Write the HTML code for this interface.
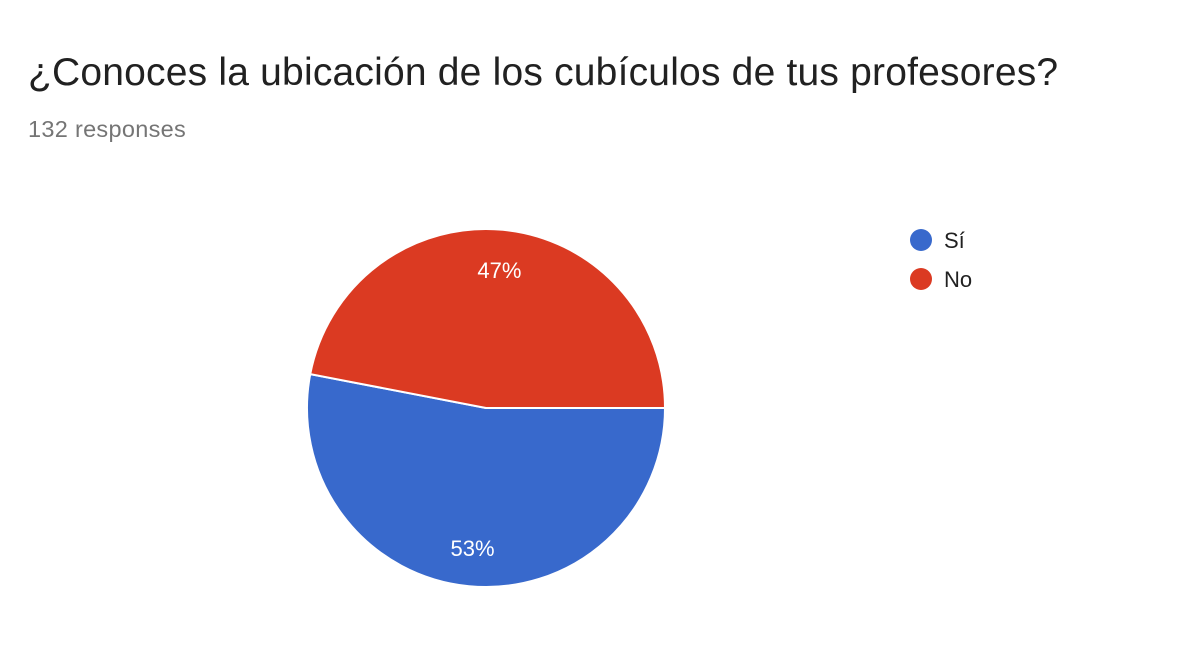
<!DOCTYPE html>
<html><head><meta charset="utf-8"><style>
body{margin:0;width:1182px;height:666px;background:#fff;overflow:hidden;font-family:"Liberation Sans",Arial,sans-serif}
#title{position:absolute;left:28px;top:51px;font-size:39px;letter-spacing:0.2px;color:#212121;white-space:nowrap}
#sub{position:absolute;left:28px;top:116px;font-size:23.5px;letter-spacing:0.3px;color:#757575}
svg{position:absolute;left:0;top:0}
</style></head><body>
<div id="title">¿Conoces la ubicación de los cubículos de tus profesores?</div>
<div id="sub">132 responses</div>
<svg id="chart" width="1182" height="666"></svg>
<script>
const categories = ["Sí", "No"];
const values = [70, 62];
const colors = ["#3869cc", "#db3a22"];
const svg = document.getElementById('chart');
const NS = 'http://www.w3.org/2000/svg';
const cx = 486, cy = 408, r = 179;
const total = values.reduce((a,b)=>a+b,0);
let a0 = 0;
function pt(a, rr){ return [cx + rr*Math.cos(a), cy + rr*Math.sin(a)]; }
values.forEach((v,i)=>{
  const a1 = a0 + v/total*2*Math.PI;
  const [x0,y0]=pt(a0,r),[x1,y1]=pt(a1,r);
  const large = (a1-a0)>Math.PI?1:0;
  const p=document.createElementNS(NS,'path');
  p.setAttribute('d',`M${cx},${cy} L${x0},${y0} A${r},${r} 0 ${large} 1 ${x1},${y1} Z`);
  p.setAttribute('fill',colors[i]);p.setAttribute('stroke','#fff');p.setAttribute('stroke-width','2');
  
  
  svg.appendChild(p);
  const am=(a0+a1)/2;const [lx,ly]=pt(am,r*0.79);
  const t=document.createElementNS(NS,'text');
  t.setAttribute('x',lx);t.setAttribute('y',ly+(i===0?7:11));t.setAttribute('text-anchor','middle');
  t.setAttribute('fill','#fff');t.setAttribute('font-size','22');
  t.textContent=Math.round(v/total*100)+'%';
  
  
  svg.appendChild(t);
  const c=document.createElementNS(NS,'circle');
  c.setAttribute('cx',921);c.setAttribute('cy',240+i*39);c.setAttribute('r',11);c.setAttribute('fill',colors[i]);
  
  
  svg.appendChild(c);
  const lt=document.createElementNS(NS,'text');
  lt.setAttribute('x',944);lt.setAttribute('y',248+i*39);lt.setAttribute('font-size','22');lt.setAttribute('fill','#212121');
  lt.textContent=categories[i];
  
  
  svg.appendChild(lt);
  a0=a1;
});
</script>
</body></html>
